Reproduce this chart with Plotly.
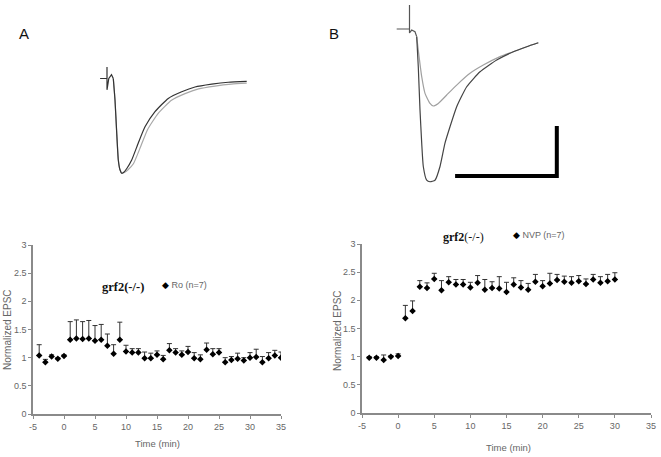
import plotly.graph_objects as go

W, H = 661, 457

# ---------------- data: bottom-left (Ro) ----------------
ro_time = list(range(-4, 36))
ro_mean = [1.04, 0.92, 1.02, 0.98, 1.03, 1.32, 1.34, 1.33, 1.34, 1.30,
           1.32, 1.21, 1.07, 1.32, 1.11, 1.09, 1.09, 0.99, 0.99, 1.05,
           0.97, 1.13, 1.09, 1.05, 1.10, 0.99, 0.97, 1.14, 1.06, 1.09,
           0.92, 0.96, 0.98, 0.95, 1.00, 1.01, 0.92, 0.99, 1.04, 1.00]
ro_sem = [0.19, 0.05, 0.03, 0.02, 0.02, 0.32, 0.33, 0.31, 0.32, 0.27,
          0.27, 0.21, 0.16, 0.31, 0.11, 0.07, 0.07, 0.11, 0.09, 0.07,
          0.07, 0.12, 0.07, 0.07, 0.10, 0.10, 0.08, 0.12, 0.10, 0.07,
          0.08, 0.06, 0.10, 0.05, 0.09, 0.14, 0.10, 0.10, 0.09, 0.10]

# ---------------- data: bottom-right (NVP) ----------------
nvp_time = list(range(-4, 31))
nvp_mean = [0.98, 0.98, 0.94, 1.00, 1.01, 1.68, 1.81, 2.24, 2.22, 2.38,
            2.18, 2.32, 2.28, 2.28, 2.23, 2.31, 2.19, 2.22, 2.21, 2.15,
            2.28, 2.23, 2.19, 2.33, 2.25, 2.30, 2.36, 2.33, 2.31, 2.34,
            2.29, 2.37, 2.31, 2.34, 2.37]
nvp_sem = [0.02, 0.02, 0.09, 0.02, 0.04, 0.23, 0.18, 0.11, 0.09, 0.10,
           0.17, 0.10, 0.09, 0.09, 0.09, 0.13, 0.18, 0.11, 0.21, 0.17,
           0.12, 0.12, 0.11, 0.13, 0.10, 0.18, 0.10, 0.10, 0.11, 0.10,
           0.09, 0.09, 0.11, 0.12, 0.12]

# ---------------- data: EPSC traces, panel A (ms, normalized) ----------------
a_artifact_t = [-2.3, -0.7, 0.0, 0.0, 0.0, 0.6, 1.5, 2.1]
a_artifact_v = [0.0, 0.0, 0.0, 0.12, -0.12, 0.0, 0.04, 0.0]
a_black_t = [2.1, 2.67, 3.23, 3.77, 4.3, 4.9, 5.6, 6.6, 8.23, 10.43, 12.67,
             16.0, 20.43, 24.9, 29.33, 34.9, 40.43, 46.57]
a_black_v = [0.0, -0.23, -0.57, -0.86, -0.96, -1.0, -0.99, -0.95, -0.86, -0.68, -0.51,
             -0.35, -0.21, -0.14, -0.09, -0.06, -0.04, -0.03]
a_gray_t = [2.1, 2.67, 3.23, 3.77, 4.3, 5.1, 5.9, 7.1, 8.8, 11.2, 13.5,
            17.0, 21.5, 26.0, 30.5, 36.0, 41.5, 46.57]
a_gray_v = [0.0, -0.23, -0.57, -0.86, -0.96, -1.0, -0.99, -0.96, -0.9, -0.72, -0.54,
            -0.37, -0.23, -0.16, -0.11, -0.08, -0.06, -0.05]

# ---------------- data: EPSC traces, panel B ----------------
b_artifact_t = [-4.27, -1.5, 0.0, 0.0, 0.0, 0.73, 1.83, 2.4]
b_artifact_v = [0.0, 0.0, 0.0, 0.157, -0.026, -0.007, -0.018, -0.05]
b_black_t = [2.4, 2.93, 3.5, 4.07, 4.6, 5.73, 6.83, 8.5, 10.17, 11.83, 13.5,
             15.73, 19.07, 23.5, 29.07, 34.6, 39.07, 42.93]
b_black_v = [-0.05, -0.247, -0.53, -0.747, -0.90, -0.99, -1.0, -0.99, -0.90, -0.747, -0.64,
             -0.509, -0.378, -0.28, -0.203, -0.149, -0.116, -0.09]
b_gray_t = [2.4, 2.93, 4.07, 5.17, 6.83, 7.93, 9.6, 12.4, 15.73, 20.17, 24.6,
            30.17, 34.6, 39.07, 42.93]
b_gray_v = [-0.05, -0.138, -0.312, -0.421, -0.487, -0.504, -0.487, -0.432, -0.367,
            -0.29, -0.236, -0.181, -0.149, -0.116, -0.09]
scalebar_t = [15.2, 49.1, 49.1]
scalebar_v = [-0.963, -0.963, -0.635]

x_ticks = [-5, 0, 5, 10, 15, 20, 25, 30, 35]
y_ticks = [0, 0.5, 1, 1.5, 2, 2.5, 3]
y_ticklabels = ["0", "0.5", "1", "1.5", "2", "2.5", "3"]

# ---------------- figure ----------------
AX = "#8a8a8a"
TXT = "#666666"
FONT = "Liberation Sans, Arial, sans-serif"

def px(x):
    return x / W

def py(y):
    return 1 - y / H

fig = go.Figure()

def add_points(t, m, e, xa, ya):
    fig.add_trace(go.Scatter(
        x=t, y=m, mode="markers", xaxis=xa, yaxis=ya,
        marker=dict(symbol="diamond", size=5, color="black"),
        error_y=dict(type="data", symmetric=False, array=e,
                     arrayminus=[0] * len(e), color="#333333",
                     thickness=1, width=2.5),
        showlegend=False, hoverinfo="skip"))

add_points(ro_time, ro_mean, ro_sem, "x", "y")
add_points(nvp_time, nvp_mean, nvp_sem, "x2", "y2")

def add_line(t, v, xa, ya, color, width=1.2, shape="spline"):
    fig.add_trace(go.Scatter(x=t, y=v, mode="lines", xaxis=xa, yaxis=ya,
                             line=dict(color=color, width=width, shape=shape,
                                       **({"smoothing": 0.5} if shape == "spline" else {})),
                             showlegend=False, hoverinfo="skip"))

add_line(a_gray_t, a_gray_v, "x3", "y3", "#a8a8a8")
add_line(a_black_t, a_black_v, "x3", "y3", "#333333")
add_line(a_artifact_t, a_artifact_v, "x3", "y3", "#333333", shape="linear")
add_line(b_gray_t, b_gray_v, "x4", "y4", "#a0a0a0")
add_line(b_black_t, b_black_v, "x4", "y4", "#444444")
add_line(b_artifact_t, b_artifact_v, "x4", "y4", "#555555", shape="linear")
fig.add_trace(go.Scatter(x=scalebar_t, y=scalebar_v, mode="lines",
                         xaxis="x4", yaxis="y4",
                         line=dict(color="black", width=4),
                         showlegend=False, hoverinfo="skip"))

def data_axes(dom_x, dom_y, anchor_x, anchor_y):
    xa = dict(domain=dom_x, range=[-5, 35], tickvals=x_ticks,
              ticktext=[str(v) for v in x_ticks], automargin=False,
              showline=True, linecolor=AX, linewidth=1.5, ticks="outside",
              ticklen=3, tickcolor=AX, tickwidth=1, showgrid=False,
              zeroline=False, anchor=anchor_y,
              tickfont=dict(family=FONT, size=9, color=TXT))
    ya = dict(domain=dom_y, range=[0, 3], tickvals=y_ticks,
              ticktext=y_ticklabels, automargin=False,
              showline=True, linecolor=AX, linewidth=1.5, ticks="outside",
              ticklen=3, tickcolor=AX, tickwidth=1, showgrid=False,
              zeroline=False, anchor=anchor_x,
              tickfont=dict(family=FONT, size=9, color=TXT))
    return xa, ya

xa1, ya1 = data_axes([px(33), px(281)], [py(414), py(245)], "x", "y")
xa2, ya2 = data_axes([px(362), px(651)], [py(413), py(244)], "x2", "y2")

hidden = dict(visible=False, showgrid=False, zeroline=False, automargin=False)

fig.update_layout(
    width=W, height=H,
    margin=dict(l=0, r=0, t=0, b=0, autoexpand=False),
    paper_bgcolor="white", plot_bgcolor="white",
    xaxis=xa1, yaxis=ya1, xaxis2=xa2, yaxis2=ya2,
    xaxis3=dict(domain=[px(95), px(255)], range=[-4, 49.33], anchor="y3", **hidden),
    yaxis3=dict(domain=[py(180), py(60)], range=[-1.071, 0.195], anchor="x3", **hidden),
    xaxis4=dict(domain=[px(390), px(565)], range=[-6.5, 51.83], anchor="y4", **hidden),
    yaxis4=dict(domain=[py(190), py(0)], range=[-1.054, 0.19], anchor="x4", **hidden),
)

def ann(x, y, text, size=9, color=TXT, family=FONT, angle=0, xanchor="center"):
    fig.add_annotation(x=px(x), y=py(y), xref="paper", yref="paper", text=text,
                       showarrow=False, textangle=angle, xanchor=xanchor,
                       yanchor="middle",
                       font=dict(size=size, color=color, family=family))

# panel letters
ann(23.5, 33, "A", size=15, color="#111111")
ann(334, 33, "B", size=15, color="#111111")

# axis titles
ann(7, 330, "Normalized EPSC", size=10, angle=-90)
ann(337, 331, "Normalized EPSC", size=10, angle=-90)
ann(157, 443, "Time (min)", size=9.5)
ann(508, 447, "Time (min)", size=9.5)

# in-plot labels
SERIF = "Liberation Serif, Times New Roman, serif"
ann(123, 287, "<b>grf2(-/-)</b>", size=12.5, color="#111111", family=SERIF)
ann(463, 237, "<b>grf2</b>(-/-)", size=12, color="#111111", family=SERIF)
ann(160, 285, "<span style='color:black'>◆</span> Ro (n=7)", size=9,
    xanchor="left")
ann(511, 235, "<span style='color:black'>◆</span> NVP (n=7)", size=9,
    xanchor="left")

fig.write_html("out.html",
               config={"displayModeBar": False},
               post_script="document.body.style.margin='0';"
                           "document.body.style.overflow='hidden';")
